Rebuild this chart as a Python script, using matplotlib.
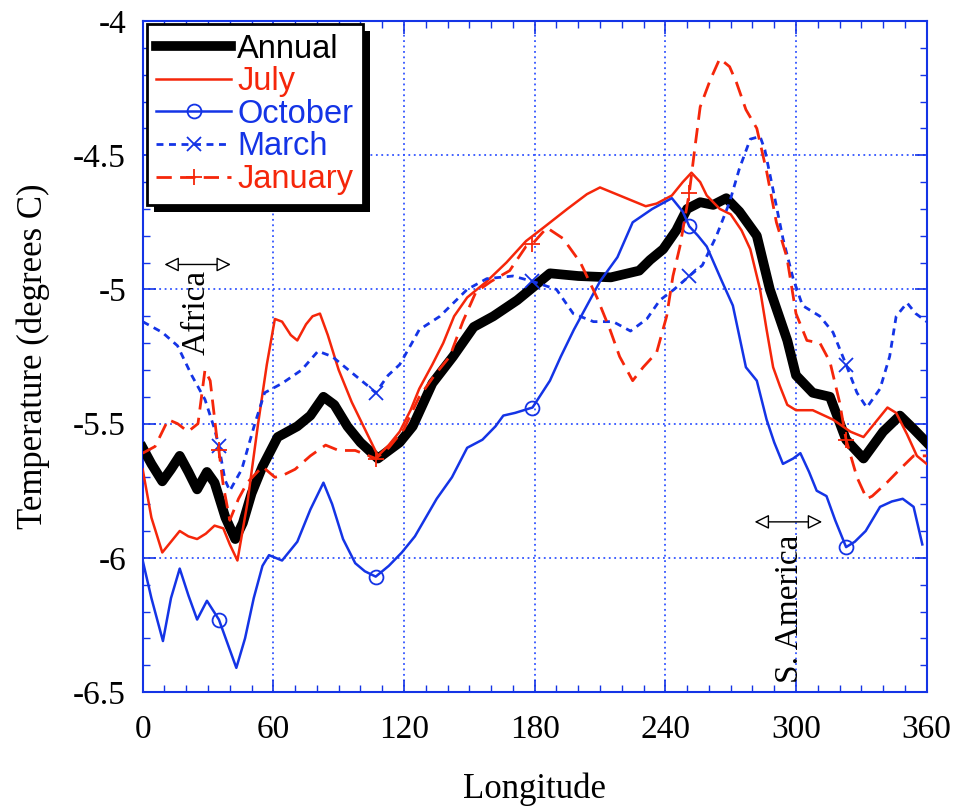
import numpy as np
import matplotlib
matplotlib.use("Agg")
import matplotlib.pyplot as plt
from matplotlib.lines import Line2D
from matplotlib.patches import Rectangle
from matplotlib.ticker import MultipleLocator

# ---- data (longitude in degrees, temperature in degrees C)
annual_lon = [0, 4, 9, 13, 17, 21, 25, 29.5, 33, 38, 42.5, 46, 50, 55, 62, 71, 77, 83, 88, 94,
              100, 108, 113, 118, 124, 133, 142.5, 152, 161, 172, 182.5, 187, 200, 215, 228,
              233, 239, 245, 250, 256, 262, 268, 274, 282, 288, 296, 300, 307.7, 315.6, 323,
              331, 340, 347.7, 354, 360]
annual_t = [-5.59, -5.65, -5.715, -5.67, -5.62, -5.68, -5.745, -5.68, -5.72, -5.85, -5.93, -5.87,
            -5.76, -5.66, -5.55, -5.51, -5.47, -5.40, -5.43, -5.51, -5.57, -5.63, -5.60, -5.57,
            -5.51, -5.35, -5.25, -5.14, -5.10, -5.04, -4.97, -4.94, -4.95, -4.955, -4.93, -4.89,
            -4.85, -4.78, -4.70, -4.675, -4.685, -4.66, -4.71, -4.80, -5.0, -5.19, -5.32, -5.385,
            -5.40, -5.56, -5.63, -5.53, -5.47, -5.52, -5.57]

july_lon = [0, 4, 9, 13, 17, 21, 25, 29, 33, 37, 40, 43.5, 48, 53, 57, 60.7, 64, 68, 71, 75, 78,
            81.4, 85, 90, 96, 102, 108, 113, 118, 123, 127, 133, 138, 143, 149, 158, 167, 176,
            184, 195, 204, 210, 219, 231, 236, 243, 248, 252, 256, 259, 265, 270, 275, 279,
            283.5, 286.5, 289.5, 292.6, 296, 300, 307.7, 317, 325, 331, 336, 342, 346, 351,
            355.5, 360]
july_t = [-5.67, -5.85, -5.98, -5.94, -5.90, -5.92, -5.93, -5.91, -5.88, -5.89, -5.95, -6.01,
          -5.80, -5.50, -5.28, -5.11, -5.12, -5.17, -5.19, -5.13, -5.10, -5.09, -5.17, -5.30,
          -5.42, -5.52, -5.62, -5.58, -5.53, -5.45, -5.37, -5.28, -5.20, -5.10, -5.03, -4.97,
          -4.90, -4.82, -4.77, -4.70, -4.645, -4.62, -4.65, -4.69, -4.68, -4.65, -4.60, -4.565,
          -4.60, -4.65, -4.70, -4.72, -4.78, -4.85, -5.0, -5.15, -5.29, -5.36, -5.43, -5.45,
          -5.45, -5.485, -5.53, -5.55, -5.50, -5.44, -5.46, -5.54, -5.62, -5.65]

oct_lon = [0, 4, 9.3, 13, 17, 21, 25, 29.5, 35, 39, 43, 47, 51, 55, 58, 64, 71, 77, 83, 87, 92,
           97.6, 102, 107, 113, 119, 125, 130, 135, 142, 149, 156, 162, 165.6, 171, 179, 187,
           192, 198, 204, 210, 218, 225, 234, 243, 248, 251, 255, 259, 266, 271, 277, 282,
           286.5, 290, 294, 298.7, 302, 306, 309.5, 314, 318, 323, 327, 332, 338.6, 344, 349,
           354, 358]
oct_t = [-6.01, -6.15, -6.31, -6.15, -6.04, -6.14, -6.23, -6.16, -6.23, -6.32, -6.41, -6.30,
         -6.15, -6.03, -5.99, -6.01, -5.94, -5.82, -5.72, -5.80, -5.93, -6.02, -6.05, -6.07,
         -6.03, -5.98, -5.92, -5.85, -5.78, -5.70, -5.59, -5.56, -5.51, -5.47, -5.46, -5.44,
         -5.34, -5.25, -5.15, -5.06, -4.97, -4.88, -4.75, -4.70, -4.66, -4.71, -4.765, -4.80,
         -4.84, -4.97, -5.06, -5.29, -5.34, -5.485, -5.57, -5.65, -5.63, -5.61, -5.68, -5.75,
         -5.77, -5.86, -5.96, -5.94, -5.90, -5.81, -5.79, -5.78, -5.81, -5.95]

mar_lon = [0, 9, 16, 22.5, 28.6, 33, 35, 37.8, 40, 45.5, 51.5, 56, 64, 73, 80.5, 87, 96, 103.5,
           107, 112.7, 118, 123.6, 127, 136.5, 149, 158, 170, 179, 190, 197.7, 207, 216, 224,
           231.5, 237.5, 244, 251, 257, 263.5, 269.5, 274, 279, 283.5, 285.7, 289.5, 294,
           298.7, 303, 311, 317, 323, 328, 332.5, 338.6, 343, 346, 351, 355, 360]
mar_t = [-5.12, -5.16, -5.21, -5.32, -5.41, -5.52, -5.585, -5.71, -5.75, -5.67, -5.50, -5.385,
         -5.35, -5.30, -5.23, -5.25, -5.31, -5.36, -5.385, -5.32, -5.28, -5.20, -5.15, -5.10,
         -5.00, -4.96, -4.95, -4.97, -5.00, -5.09, -5.12, -5.12, -5.155, -5.11, -5.04, -5.00,
         -4.95, -4.91, -4.80, -4.675, -4.55, -4.44, -4.43, -4.48, -4.63, -4.81, -4.96, -5.06,
         -5.10, -5.16, -5.28, -5.385, -5.44, -5.37, -5.25, -5.10, -5.05, -5.09, -5.12]

jan_lon = [0, 5.7, 11.7, 16, 20.8, 25.4, 28.6, 31, 34, 35, 37, 40, 44, 48, 55, 60.7, 65, 70, 77,
           84, 90, 97.6, 107, 113, 120, 127, 134, 141, 147, 153, 160, 168.5, 176, 179, 185.6,
           193, 201, 208.6, 214.6, 219, 225, 229.8, 236, 240.6, 243.5, 246.7, 251, 253.6, 256,
           260.6, 265, 269.5, 272.7, 277, 282, 286.5, 291, 295.8, 300, 305, 311, 315.6, 320,
           323, 328, 332.5, 335, 341.7, 347.7, 354, 360]
jan_t = [-5.61, -5.585, -5.485, -5.50, -5.53, -5.50, -5.30, -5.34, -5.55, -5.60, -5.73, -5.86,
         -5.78, -5.72, -5.66, -5.70, -5.69, -5.67, -5.62, -5.58, -5.60, -5.60, -5.63, -5.59,
         -5.52, -5.40, -5.32, -5.25, -5.12, -5.01, -4.97, -4.93, -4.84, -4.83, -4.77, -4.81,
         -4.90, -5.03, -5.15, -5.25, -5.34, -5.29, -5.235, -5.10, -4.95, -4.84, -4.64, -4.47,
         -4.32, -4.22, -4.14, -4.17, -4.23, -4.33, -4.40, -4.56, -4.75, -4.88, -5.09, -5.19,
         -5.20, -5.27, -5.42, -5.56, -5.70, -5.78, -5.77, -5.72, -5.67, -5.62, -5.62]

marker_lon = [35, 107, 179, 251, 323]

RED = '#f5260a'
BLUE = '#1434e6'
GRID = '#3355ff'

serif = ['Liberation Serif', 'DejaVu Serif']
sans = ['Liberation Sans', 'DejaVu Sans']

fig = plt.figure(figsize=(9.57, 8.06), dpi=100)
ax = fig.add_axes([0.1491, 0.1414, 0.8192, 0.8325])


def marks(lons):
    return [i for i, v in enumerate(lons) if v in marker_lon]


mar_dash = (2.5, 2.0)
jan_dash = (5.5, 3.0)

ax.plot(annual_lon, annual_t, color='black', lw=7, solid_joinstyle='round', zorder=3)
ax.plot(july_lon, july_t, color=RED, lw=1.8, zorder=4)
ax.plot(oct_lon, oct_t, color=BLUE, lw=1.8, marker='o', ms=10, mfc='none', mew=1.3,
        markevery=marks(oct_lon), zorder=4)
ax.plot(mar_lon, mar_t, color=BLUE, lw=2.0, dashes=mar_dash, marker='x', ms=10, mew=1.3,
        markevery=marks(mar_lon), zorder=4)
ax.plot(jan_lon, jan_t, color=RED, lw=2.0, dashes=jan_dash, marker='+', ms=12, mew=1.3,
        markevery=marks(jan_lon), zorder=4)

ax.set_xlim(0, 360)
ax.set_ylim(-6.5, -4)
ax.xaxis.set_major_locator(MultipleLocator(60))
ax.xaxis.set_minor_locator(MultipleLocator(10))
ax.yaxis.set_major_locator(MultipleLocator(0.5))
ax.yaxis.set_minor_locator(MultipleLocator(0.1))
ax.set_yticks([-6.5, -6, -5.5, -5, -4.5, -4])
ax.set_yticklabels(['-6.5', '-6', '-5.5', '-5', '-4.5', '-4'])
ax.tick_params(which='both', direction='in', top=True, right=True, color=BLUE)
ax.tick_params(which='major', length=9, width=1.2)
ax.tick_params(which='minor', length=5, width=1.0)
ax.tick_params(axis='x', pad=16)
ax.tick_params(axis='y', pad=12)
for lab in ax.get_xticklabels() + ax.get_yticklabels():
    lab.set_fontfamily(serif)
    lab.set_fontsize(24)
for sp in ax.spines.values():
    sp.set_color(BLUE)
    sp.set_linewidth(1.5)
ax.grid(True, which='major', color=GRID, ls=(0, (1, 2)), lw=1.3)
ax.set_axisbelow(True)

ax.set_xlabel('Longitude', family=serif, fontsize=25, labelpad=20)
ax.set_ylabel('Temperature (degrees C)', family=serif, fontsize=25, labelpad=17)

# region annotations
ax.annotate('', xy=(10, -4.907), xytext=(40.5, -4.907),
            arrowprops=dict(arrowstyle='<|-|>', fc='white', ec='black', lw=1.0,
                            mutation_scale=22, shrinkA=0, shrinkB=0))
ax.text(24.5, -5.086, 'Africa', rotation=90, ha='center', va='center',
        family=serif, fontsize=24)
ax.annotate('', xy=(281, -5.866), xytext=(312, -5.866),
            arrowprops=dict(arrowstyle='<|-|>', fc='white', ec='black', lw=1.0,
                            mutation_scale=22, shrinkA=0, shrinkB=0))
ax.text(297, -6.19, 'S. America', rotation=90, ha='center', va='center',
        family=serif, fontsize=24, zorder=6)

# legend with proxy handles
handles = [
    Line2D([], [], color='black', lw=7),
    Line2D([], [], color=RED, lw=1.8),
    Line2D([], [], color=BLUE, lw=1.8, marker='o', ms=10, mfc='none', mew=1.3),
    Line2D([], [], color=BLUE, lw=2.0, dashes=mar_dash, marker='x', ms=10, mew=1.3),
    Line2D([], [], color=RED, lw=2.0, dashes=jan_dash, marker='+', ms=12, mew=1.3),
]
labels = ['Annual', 'July', 'October', 'March', 'January']
leg = ax.legend(handles, labels, loc='upper left', bbox_to_anchor=(0.005, 0.996),
                borderaxespad=0, numpoints=1, handlelength=2.3, handletextpad=0.18,
                labelspacing=0.05, borderpad=0.3, fancybox=False, framealpha=1,
                edgecolor='black', prop={'family': sans, 'size': 23.5})
leg.get_frame().set_linewidth(2)
leg.set_zorder(10)
for txt, c in zip(leg.get_texts(), ['black', RED, BLUE, BLUE, RED]):
    txt.set_color(c)

# drop shadow behind the legend box
fig.canvas.draw()
bb = leg.get_frame().get_window_extent().transformed(fig.transFigure.inverted())
dx, dy = 7 / 957, 7 / 806
shadow = Rectangle((bb.x0 + dx, bb.y0 - dy), bb.width, bb.height, transform=fig.transFigure,
                   facecolor='black', edgecolor='none', zorder=9)
ax.add_artist(shadow)
shadow.set_clip_on(False)

fig.savefig('out.png', dpi=100)
